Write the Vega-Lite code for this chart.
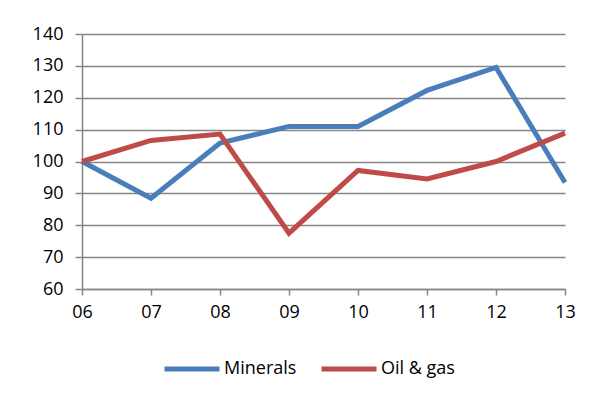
{
  "$schema": "https://vega.github.io/schema/vega-lite/v6.json",
  "autosize": {"type": "none"},
  "padding": {"left": 82, "top": 34, "right": 32, "bottom": 113},
  "width": 483,
  "height": 255,
  "background": "white",
  "config": {
    "view": {"stroke": null},
    "font": "Open Sans",
    "axis": {"labelFont": "Open Sans", "labelFontSize": 18, "labelColor": "#000000", "titleFontSize": 0}
  },
  "data": {
    "values": [
      {"year": "06", "series": "Minerals", "value": 100},
      {"year": "07", "series": "Minerals", "value": 88.5},
      {"year": "08", "series": "Minerals", "value": 105.8},
      {"year": "09", "series": "Minerals", "value": 111},
      {"year": "10", "series": "Minerals", "value": 111},
      {"year": "11", "series": "Minerals", "value": 122.3},
      {"year": "12", "series": "Minerals", "value": 129.5},
      {"year": "13", "series": "Minerals", "value": 93.4},
      {"year": "06", "series": "Oil & gas", "value": 100},
      {"year": "07", "series": "Oil & gas", "value": 106.6},
      {"year": "08", "series": "Oil & gas", "value": 108.6},
      {"year": "09", "series": "Oil & gas", "value": 77.5},
      {"year": "10", "series": "Oil & gas", "value": 97.2},
      {"year": "11", "series": "Oil & gas", "value": 94.5},
      {"year": "12", "series": "Oil & gas", "value": 100},
      {"year": "13", "series": "Oil & gas", "value": 108.9}
    ]
  },
  "mark": {"type": "line", "strokeWidth": 5, "strokeJoin": "miter", "strokeCap": "butt"},
  "encoding": {
    "x": {
      "field": "year", "type": "ordinal",
      "scale": {"type": "point", "padding": 0},
      "axis": {
        "title": null, "labelAngle": 0, "grid": false,
        "domain": true, "domainColor": "#868686", "domainWidth": 1.5,
        "ticks": true, "tickColor": "#868686", "tickWidth": 1.5, "tickSize": 6,
        "labelPadding": 8, "labelFontSize": 18
      }
    },
    "y": {
      "field": "value", "type": "quantitative",
      "scale": {"domain": [60, 140], "nice": false, "zero": false},
      "axis": {
        "title": null, "values": [60, 70, 80, 90, 100, 110, 120, 130, 140],
        "grid": true, "gridColor": "#868686", "gridWidth": 1.5, "gridOpacity": 1,
        "domain": true, "domainColor": "#868686", "domainWidth": 1.5,
        "ticks": true, "tickColor": "#868686", "tickWidth": 1.5, "tickSize": 7,
        "labelPadding": 12, "labelFontSize": 18
      }
    },
    "color": {
      "field": "series", "type": "nominal",
      "scale": {"domain": ["Minerals", "Oil & gas"], "range": ["#4A7EBB", "#BE4B48"]},
      "legend": {
        "title": null, "orient": "none", "direction": "horizontal",
        "legendX": 80, "legendY": 305,
        "symbolType": "stroke", "symbolSize": 3025, "symbolStrokeWidth": 5,
        "labelFont": "Open Sans", "labelFontSize": 18, "labelColor": "#000000",
        "labelOffset": 2, "columnPadding": 14
      }
    }
  }
}
